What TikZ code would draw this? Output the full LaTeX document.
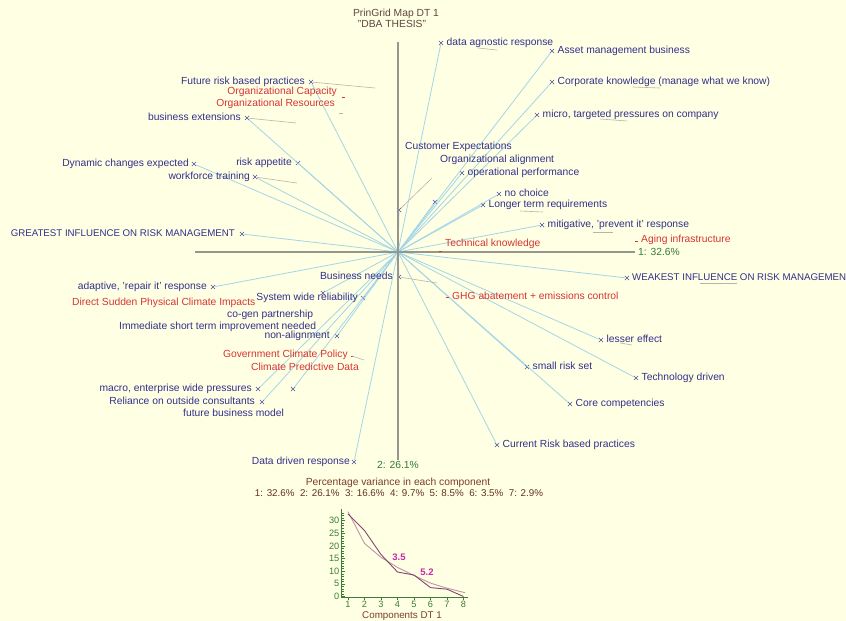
\documentclass[tikz,border=0pt]{standalone}
\usepackage{fontspec}
\setmainfont{Liberation Sans}
\usetikzlibrary{shapes.misc}
\definecolor{bgc}{RGB}{255,255,228}
\definecolor{lblue}{RGB}{50,48,140}
\definecolor{lred}{RGB}{214,52,52}
\definecolor{lgreen}{RGB}{52,122,52}
\definecolor{raycol}{RGB}{162,214,232}
\definecolor{axcol}{RGB}{150,150,140}
\definecolor{leadcol}{RGB}{185,180,170}
\definecolor{ttl}{RGB}{95,70,60}
\definecolor{brn}{RGB}{125,60,40}
\definecolor{scrA}{RGB}{130,70,115}
\definecolor{scrB}{RGB}{190,150,165}
\definecolor{scrax}{RGB}{60,125,55}
\definecolor{mag}{RGB}{200,40,170}
\begin{document}
\begin{tikzpicture}[x=1pt,y=-1pt,
  txt/.style={font=\fontsize{10.3}{11}\selectfont, inner sep=0pt, text height=7pt, text depth=2pt},
  capstxt/.style={txt, font=\fontsize{9.7}{11}\selectfont},
  pole/.style={txt, text=lblue},
  elem/.style={txt, text=lred},
  xm/.style={cross out, draw=lblue!85, line width=0.55pt, minimum size=3.6pt, inner sep=0pt},
  ray/.style={draw=raycol, line width=0.8pt},
  axisline/.style={draw=axcol, line width=1.3pt},
  lead/.style={draw=leadcol, line width=0.6pt},
  emark/.style={draw=lred, line width=0.7pt},
  scrtxt/.style={font=\fontsize{9.2}{10}\selectfont, inner sep=0pt, text=scrax},
]
% canvas and background
\clip (0,0) rectangle (846,621);
\fill[bgc] (0,0) rectangle (846,621);

% origin of the map
\coordinate (o) at (398,252);

% construct poles
\node[xm] (da) at (441,43) {};
\node[xm] (dd) at (354,462) {};
\node[xm] (am) at (552,51) {};
\node[xm] (fb) at (293,389) {};
\node[xm] (ck) at (552,82) {};
\node[xm] (ro) at (262,402) {};
\node[xm] (mi) at (537,115) {};
\node[xm] (ma) at (258,389) {};
\node[xm] (ce) at (399,210) {};
\node[xm] (bn) at (399,277) {};
\node[xm] (oa) at (435,202) {};
\node[xm] (na) at (337,336) {};
\node[xm] (op) at (462,173) {};
\node[xm] (sw) at (363,298) {};
\node[xm] (nc) at (499,194) {};
\node[xm] (lt) at (483,205) {};
\node[xm] (im) at (323,293) {};
\node[xm] (mp) at (542,225) {};
\node[xm] (ad) at (213,287) {};
\node[xm] (gi) at (242,234) {};
\node[xm] (wi) at (627,278) {};
\node[xm] (le) at (601,340) {};
\node[xm] (dc) at (194,164) {};
\node[xm] (sr) at (527,367) {};
\node[xm] (ra) at (298,163) {};
\node[xm] (td) at (636,378) {};
\node[xm] (wt) at (255,177) {};
\node[xm] (cc) at (570,404) {};
\node[xm] (be) at (247,118) {};
\node[xm] (cr) at (497,445) {};
\node[xm] (fr) at (311,82) {};

% rays from the origin to every pole
\foreach \p in {da,dd,am,fb,ck,ro,mi,ma,ce,bn,oa,na,op,sw,nc,lt,im,mp,ad,gi,wi,le,dc,sr,ra,td,wt,cc,be,cr,fr}
  \draw[ray] (o) -- (\p);

% principal axes
\coordinate (hl) at (195,252);
\coordinate (hr) at (635,252);
\coordinate (vt) at (398,42);
\coordinate (vb) at (398,460);
\draw[axisline] (hl) -- (hr);
\draw[axisline] (vt) -- (vb);
\node[txt, text=lgreen, anchor=west] (ax1) at (638,253) {1: 32.6\%};
\node[txt, text=lgreen] (ax2) at (398,466) {2: 26.1\%};

% faint leader lines
\coordinate (frL) at (375,88);
\coordinate (beL) at (296,123);
\coordinate (wtL) at (297,183);
\coordinate (bnL) at (437,283);
\coordinate (ceL) at (432,178);
\draw[lead] (fr) -- (frL);
\draw[lead] (be) -- (beL);
\draw[lead] (wt) -- (wtL);
\draw[lead] (bn) -- (bnL);
\draw[lead] (ce) -- (ceL);
\draw[lead] (478,48) -- (497,50);
\draw[lead] (633,87) -- (660,88);
\draw[lead] (600,119) -- (627,121);
\draw[lead] (520,211) -- (543,212);
\draw[lead] (593,232) -- (613,232);
\draw[lead] (700,283) -- (737,283);
\draw[lead] (620,343) -- (632,345);

% pole labels, right of their marks
\node[pole, anchor=west] at ([xshift=5.5pt]da) {data agnostic response};
\node[pole, anchor=west] at ([xshift=5.5pt]am) {Asset management business};
\node[pole, anchor=west] at ([xshift=5.5pt]ck) {Corporate knowledge (manage what we know)};
\node[pole, anchor=west] at ([xshift=5.5pt]mi) {micro, targeted pressures on company};
\node[pole, anchor=west] at ([xshift=5.5pt]op) {operational performance};
\node[pole, anchor=west] at ([xshift=5.5pt]nc) {no choice};
\node[pole, anchor=west] at ([xshift=5.5pt]lt) {Longer term requirements};
\node[pole, anchor=west] at ([xshift=5.5pt]mp) {mitigative, 'prevent it' response};
\node[pole, capstxt, anchor=west] at ([xshift=5pt]wi) {WEAKEST INFLUENCE ON RISK MANAGEMEN};
\node[pole, anchor=west] at ([xshift=5.5pt]le) {lesser effect};
\node[pole, anchor=west] at ([xshift=5.5pt]sr) {small risk set};
\node[pole, anchor=west] at ([xshift=5.5pt]td) {Technology driven};
\node[pole, anchor=west] at ([xshift=5.5pt]cc) {Core competencies};
\node[pole, anchor=west] at ([xshift=5.5pt]cr) {Current Risk based practices};

% pole labels, left of their marks
\node[pole, anchor=east] at ([xshift=-6pt]fr) {Future risk based practices};
\node[pole, anchor=east] at ([xshift=-6pt]be) {business extensions};
\node[pole, anchor=east] at ([xshift=-5pt]dc) {Dynamic changes expected};
\node[pole, anchor=east] at ([xshift=-6pt]ra) {risk appetite};
\node[pole, anchor=east] at ([xshift=-5pt]wt) {workforce training};
\node[pole, capstxt, anchor=east] at ([xshift=-7pt]gi) {GREATEST INFLUENCE ON RISK MANAGEMENT};
\node[pole, anchor=east] at ([xshift=-6pt]bn) {Business needs};
\node[pole, anchor=east] at ([xshift=-6pt]ad) {adaptive, 'repair it' response};
\node[pole, anchor=east] at ([xshift=-5pt]sw) {System wide reliability};
\node[pole, anchor=east] at ([xshift=-7pt]na) {non-alignment};
\node[pole, anchor=east] at ([xshift=-6pt]ma) {macro, enterprise wide pressures};
\node[pole, anchor=east] at ([xshift=-7pt]ro) {Reliance on outside consultants};
\node[pole, anchor=east] at ([xshift=-4pt]dd) {Data driven response};

% pole labels placed apart from their marks
\node[pole, anchor=west] (ceT) at (405,147) {Customer Expectations};
\node[pole, anchor=west] (oaT) at (440,160) {Organizational alignment};
\node[pole, anchor=west] (cgT) at (227,315) {co-gen partnership};
\node[pole, anchor=west] (imT) at (119,327) {Immediate short term improvement needed};
\node[pole, anchor=west] (fbT) at (183,414) {future business model};

% elements
\coordinate (eOC) at (343,97);
\coordinate (eOR) at (341,113);
\coordinate (eTK) at (440,251);
\coordinate (eAI) at (636,241);
\coordinate (eGH) at (447,297);
\coordinate (eGC) at (352,356);
\coordinate (eGP) at (364,360);
\draw[emark] ([xshift=-1.5pt]eOC) -- ([xshift=1.5pt]eOC);
\draw[lead] ([xshift=-2pt]eOR) -- ([xshift=2pt]eOR);
\draw[emark] ([xshift=-1.5pt]eTK) -- ([xshift=1.5pt]eTK);
\draw[emark] ([xshift=-1.5pt]eAI) -- ([xshift=1.5pt]eAI);
\draw[emark] ([xshift=-1.5pt]eGH) -- ([xshift=1.5pt]eGH);
\draw[emark] ([xshift=-1.5pt]eGC) -- ([xshift=1.5pt]eGC);
\draw[lead] (eGC) -- (eGP);
\node[elem, anchor=east] (tOC) at (337,92) {Organizational Capacity};
\node[elem, anchor=east] (tOR) at (335,104) {Organizational Resources};
\node[elem, anchor=west] (tTK) at (445,244) {Technical knowledge};
\node[elem, anchor=west] (tAI) at (641,240) {Aging infrastructure};
\node[elem, anchor=west] (tGH) at (452,297) {GHG abatement + emissions control};
\node[elem, anchor=west] (tDS) at (72,303) {Direct Sudden Physical Climate Impacts};
\node[elem, anchor=east] (tGC) at (348,355) {Government Climate Policy};
\node[elem, anchor=west] (tCP) at (251,368) {Climate Predictive Data};

% titles
\node[txt, text=ttl] (t1) at (396,14) {PrinGrid Map DT 1};
\node[txt, text=ttl] (t2) at (392,25) {"DBA THESIS"};
\node[txt, text=brn] (v1) at (398,483) {Percentage variance in each component};
\node[txt, font=\fontsize{9.8}{11}\selectfont, text=brn!80!black] (v2) at (399,494) {1: 32.6\%\ \ 2: 26.1\%\ \ 3: 16.6\%\ \ 4: 9.7\%\ \ 5: 8.5\%\ \ 6: 3.5\%\ \ 7: 2.9\%};

% scree plot
\draw[scrax, line width=0.9pt] (341,509) -- (341,597) -- (468,597);
\foreach \v in {0,...,33}
  \draw[scrax, line width=0.4pt] (341,{596.5-\v*2.53}) -- ++(2.5,0);
\foreach \v in {0,5,...,30} {
  \draw[scrax, line width=0.6pt] (341,{596.5-\v*2.53}) -- ++(4,0);
  \node[scrtxt, anchor=east] at (339.5,{596.5-\v*2.53}) {\v};
}
\foreach \i in {1,...,8} {
  \draw[scrax, line width=0.6pt] ({348+(\i-1)*16.5},597) -- ++(0,2.5);
  \node[scrtxt] at ({348+(\i-1)*16.5},604.5) {\i};
}
\draw[scrB, line width=0.9pt] plot coordinates {(348,511.7) (364.5,543.4) (381,557.3) (397.5,567.4) (414,575.5) (430.5,583.1) (447,588.2) (465,592.7)};
\draw[scrA, line width=0.9pt] plot coordinates {(348,514.0) (364.5,530.5) (381,554.5) (397.5,572.0) (414,575.0) (430.5,587.6) (447,589.2) (463.5,596.5)};
\node[font=\bfseries\fontsize{9.5}{11}\selectfont, text=mag, inner sep=0pt] (s1) at (399,557) {3.5};
\node[font=\bfseries\fontsize{9.5}{11}\selectfont, text=mag, inner sep=0pt] (s2) at (427,572) {5.2};
\node[txt, font=\fontsize{9.8}{11}\selectfont, text=brn] (cx) at (402,615.5) {Components DT 1};
\end{tikzpicture}
\end{document}
